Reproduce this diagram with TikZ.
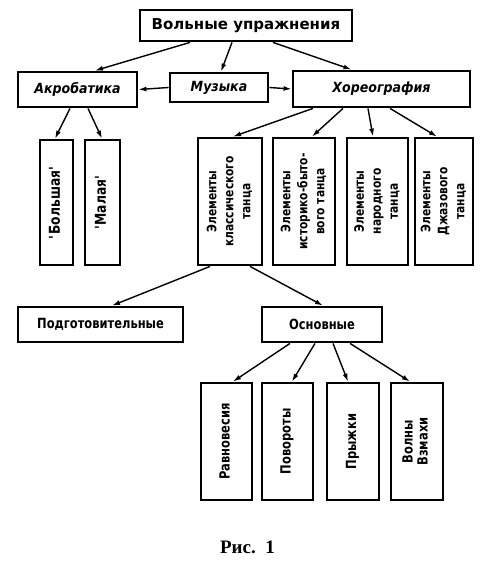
\documentclass[tikz,border=0pt]{standalone}
\usepackage{fontspec}
\setmainfont{DejaVu Sans}
\newfontfamily\condfont{DejaVu Sans}[FakeStretch=0.82]
\newfontfamily\midfont{DejaVu Sans}[FakeStretch=0.9]
\newfontfamily\capfont{Liberation Serif}
\usepackage{tikz}
\usetikzlibrary{arrows.meta,positioning}
\newcommand{\vtext}[1]{\rotatebox{90}{\begin{tabular}{@{}c@{}}#1\end{tabular}}}

\begin{document}
\begin{tikzpicture}[
  x=1pt, y=-1pt,
  box/.style={rectangle, draw=black, line width=2.8pt, inner sep=0pt,
              font=\condfont\bfseries\fontsize{14}{16}\selectfont, align=center},
  head/.style={box, font=\midfont\bfseries\itshape\fontsize{14}{16}\selectfont},
  vbox/.style={box, font=\condfont\bfseries\fontsize{13}{17}\selectfont},
  arrow/.style={-{Latex[length=8pt,width=5pt]}, line width=1.4pt}
]
\useasboundingbox (0,0) rectangle (500,566);

% top level
\node[box, minimum width=212pt, minimum height=31pt, font=\bfseries\fontsize{15}{17}\selectfont] (free) at (246,25.5) {Вольные упражнения};

% second row
\node[head, minimum width=119pt, minimum height=35pt] (acro) at (77.5,89.5) {Акробатика};
\node[head, minimum width=98pt, minimum height=29pt] (music) at (219,87.5) {Музыка};
\node[head, minimum width=177pt, minimum height=36pt] (chor) at (381.5,89) {Хореография};

% acrobatics
\node[vbox, minimum width=33pt, minimum height=125pt, font=\condfont\bfseries\fontsize{15}{17}\selectfont] (big) at (56.5,202.5) {\vtext{\textquotesingle Большая\textquotesingle}};
\node[vbox, minimum width=35pt, minimum height=125pt, font=\condfont\bfseries\fontsize{15}{17}\selectfont] (small) at (102.5,202.5) {\vtext{\textquotesingle Малая\textquotesingle}};

% choreography
\node[vbox, minimum width=64pt, minimum height=127pt] (classic) at (230,201.5) {\vtext{Элементы\\классического\\танца}};
\node[vbox, minimum width=62pt, minimum height=127pt] (hist) at (304,201.5) {\vtext{Элементы\\историко-быто-\\вого танца}};
\node[vbox, minimum width=61pt, minimum height=127pt] (folk) at (377.5,201.5) {\vtext{Элементы\\народного\\танца}};
\node[vbox, minimum width=58pt, minimum height=127pt] (jazz) at (444,201.5) {\vtext{Элементы\\Джазового\\танца}};

% third row
\node[box, minimum width=165pt, minimum height=35pt] (prep) at (100.5,324.5) {Подготовительные};
\node[box, minimum width=120pt, minimum height=35pt] (main) at (322,324.5) {Основные};

% fourth row
\node[vbox, minimum width=51pt, minimum height=117pt, font=\condfont\bfseries\fontsize{14}{15}\selectfont] (bal) at (226.5,441.5) {\vtext{Равновесия}};
\node[vbox, minimum width=51pt, minimum height=117pt, font=\condfont\bfseries\fontsize{14}{15}\selectfont] (turn) at (287.5,441.5) {\vtext{Повороты}};
\node[vbox, minimum width=52pt, minimum height=117pt, font=\condfont\bfseries\fontsize{14}{15}\selectfont] (jump) at (353,441.5) {\vtext{Прыжки}};
\node[vbox, minimum width=52pt, minimum height=117pt, font=\condfont\bfseries\fontsize{14}{15}\selectfont] (wave) at (417,441.5) {\vtext{Волны\\Взмахи}};

\node[font=\capfont\bfseries\fontsize{19}{21}\selectfont] (fig) at (247.5,547) {Рис.\ \ 1};

% connectors
\draw[arrow] ([xshift=-56pt]free.south) -- ([xshift=17.5pt]acro.north);
\draw[arrow] ([xshift=-14pt]free.south) -- ([xshift=2pt]music.north);
\draw[arrow] ([xshift=27pt]free.south) -- ([xshift=-30pt]chor.north);
\draw[arrow] (music.west) -- (acro.east);
\draw[arrow] (music.east) -- (chor.west);

\draw[arrow] ([xshift=-7.5pt]acro.south) -- ([xshift=-1.5pt]big.north);
\draw[arrow] ([xshift=10.5pt]acro.south) -- ([xshift=-0.5pt]small.north);

\draw[arrow] ([xshift=-68.5pt]chor.south) -- ([xshift=3pt]classic.north);
\draw[arrow] ([xshift=-38.5pt]chor.south) -- ([xshift=8pt]hist.north);
\draw[arrow] ([xshift=-13.5pt]chor.south) -- ([xshift=-4.5pt]folk.north);
\draw[arrow] ([xshift=8.5pt]chor.south) -- ([xshift=-7pt]jazz.north);

\draw[arrow] ([xshift=-20pt]classic.south) -- ([xshift=11.5pt]prep.north);
\draw[arrow] ([xshift=20pt]classic.south) -- ([xshift=1pt]main.north);

\draw[arrow] ([xshift=-32pt]main.south) -- ([xshift=6.5pt]bal.north);
\draw[arrow] ([xshift=-7pt]main.south) -- ([xshift=4.5pt]turn.north);
\draw[arrow] ([xshift=11pt]main.south) -- ([xshift=-5pt]jump.north);
\draw[arrow] ([xshift=28pt]main.south) -- ([xshift=-7pt]wave.north);
\end{tikzpicture}
\end{document}
